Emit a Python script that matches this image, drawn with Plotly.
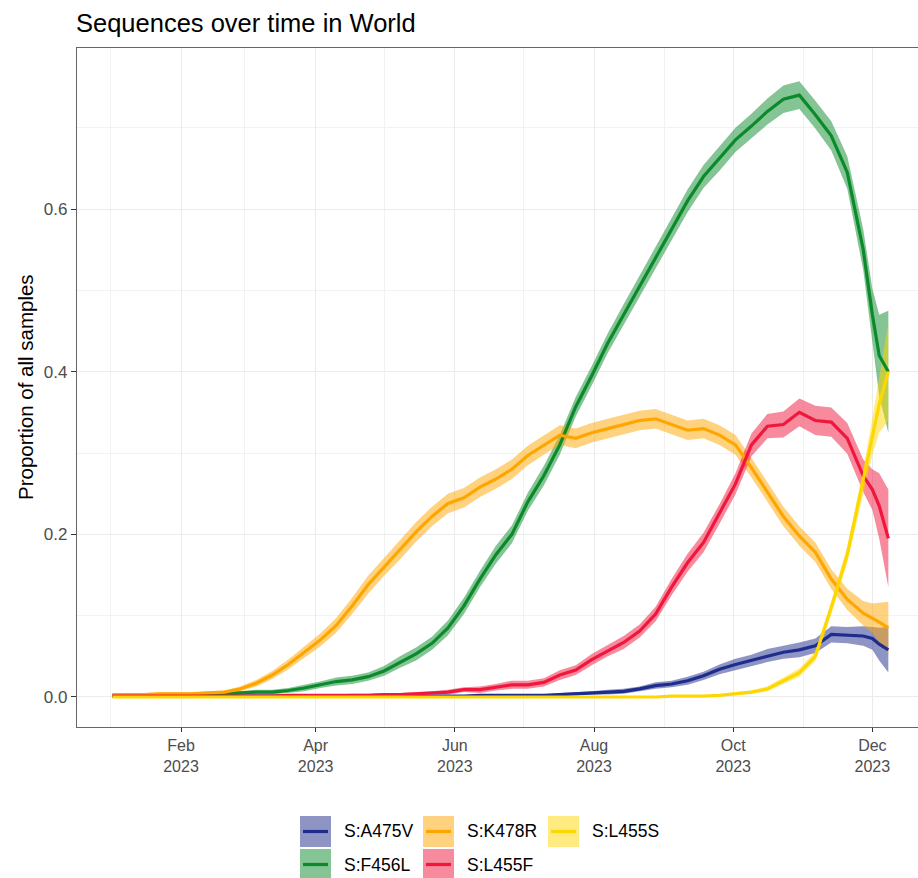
import plotly.graph_objects as go

# ---------------- data ----------------
dates = [
    "2023-01-02", "2023-01-09", "2023-01-16", "2023-01-23", "2023-01-30",
    "2023-02-06", "2023-02-13", "2023-02-20", "2023-02-27", "2023-03-06",
    "2023-03-13", "2023-03-20", "2023-03-27", "2023-04-03", "2023-04-10",
    "2023-04-17", "2023-04-24", "2023-05-01", "2023-05-08", "2023-05-15",
    "2023-05-22", "2023-05-29", "2023-06-05", "2023-06-12", "2023-06-19",
    "2023-06-26", "2023-07-03", "2023-07-10", "2023-07-17", "2023-07-24",
    "2023-07-31", "2023-08-07", "2023-08-14", "2023-08-21", "2023-08-28",
    "2023-09-04", "2023-09-11", "2023-09-18", "2023-09-25", "2023-10-02",
    "2023-10-09", "2023-10-16", "2023-10-23", "2023-10-30", "2023-11-06",
    "2023-11-13", "2023-11-20", "2023-11-27", "2023-12-01", "2023-12-04",
    "2023-12-08",
]

a475v = [0.001, 0.001, 0.001, 0.001, 0.001, 0.001, 0.001, 0.001, 0.001, 0.001,
         0.001, 0.001, 0.001, 0.001, 0.001, 0.001, 0.001, 0.001, 0.001, 0.001,
         0.001, 0.001, 0.001, 0.002, 0.002, 0.002, 0.002, 0.002, 0.003, 0.004,
         0.005, 0.006, 0.007, 0.010, 0.014, 0.016, 0.020, 0.026, 0.034, 0.040,
         0.045, 0.051, 0.055, 0.058, 0.063, 0.077, 0.076, 0.075, 0.072, 0.065,
         0.058]
a475v_hw = [0.001, 0.001, 0.001, 0.001, 0.001, 0.001, 0.001, 0.001, 0.001, 0.001,
            0.001, 0.001, 0.001, 0.001, 0.001, 0.001, 0.001, 0.001, 0.001, 0.001,
            0.001, 0.001, 0.001, 0.001, 0.001, 0.001, 0.001, 0.001, 0.002, 0.002,
            0.002, 0.003, 0.003, 0.003, 0.004, 0.004, 0.005, 0.005, 0.006, 0.007,
            0.007, 0.008, 0.008, 0.009, 0.009, 0.010, 0.010, 0.012, 0.014, 0.020,
            0.028]

f456l = [0.002, 0.002, 0.002, 0.003, 0.003, 0.003, 0.004, 0.004, 0.005, 0.006,
         0.006, 0.008, 0.011, 0.015, 0.019, 0.021, 0.025, 0.032, 0.043, 0.053,
         0.066, 0.085, 0.112, 0.145, 0.175, 0.200, 0.240, 0.272, 0.310, 0.357,
         0.395, 0.435, 0.470, 0.505, 0.540, 0.575, 0.610, 0.640, 0.662, 0.685,
         0.702, 0.720, 0.735, 0.740, 0.716, 0.690, 0.645, 0.550, 0.470, 0.420,
         0.400]
f456l_hw = [0.002, 0.002, 0.002, 0.002, 0.002, 0.002, 0.002, 0.002, 0.002, 0.003,
            0.003, 0.003, 0.004, 0.004, 0.005, 0.005, 0.005, 0.006, 0.007, 0.008,
            0.008, 0.009, 0.010, 0.010, 0.011, 0.011, 0.011, 0.012, 0.012, 0.012,
            0.012, 0.012, 0.013, 0.013, 0.013, 0.013, 0.014, 0.014, 0.015, 0.015,
            0.015, 0.016, 0.017, 0.017, 0.017, 0.018, 0.020, 0.025, 0.032, 0.050,
            0.075]

k478r = [0.003, 0.003, 0.003, 0.004, 0.004, 0.004, 0.005, 0.006, 0.010, 0.017,
         0.027, 0.040, 0.055, 0.070, 0.088, 0.112, 0.138, 0.160, 0.181, 0.203,
         0.222, 0.238, 0.245, 0.258, 0.268, 0.280, 0.297, 0.310, 0.322, 0.318,
         0.325, 0.330, 0.335, 0.340, 0.342, 0.335, 0.328, 0.330, 0.322, 0.310,
         0.282, 0.252, 0.222, 0.198, 0.178, 0.145, 0.120, 0.103, 0.097, 0.092,
         0.085]
k478r_hw = [0.002, 0.002, 0.002, 0.002, 0.002, 0.002, 0.002, 0.002, 0.003, 0.004,
            0.005, 0.006, 0.007, 0.008, 0.009, 0.010, 0.011, 0.011, 0.012, 0.012,
            0.012, 0.012, 0.012, 0.012, 0.012, 0.012, 0.012, 0.012, 0.012, 0.012,
            0.012, 0.012, 0.012, 0.012, 0.012, 0.012, 0.012, 0.012, 0.012, 0.012,
            0.012, 0.012, 0.012, 0.012, 0.012, 0.012, 0.013, 0.015, 0.018, 0.024,
            0.032]

l455f = [0.001, 0.001, 0.001, 0.001, 0.001, 0.001, 0.001, 0.001, 0.001, 0.001,
         0.001, 0.002, 0.002, 0.002, 0.002, 0.002, 0.002, 0.003, 0.003, 0.004,
         0.005, 0.006, 0.009, 0.009, 0.012, 0.015, 0.015, 0.018, 0.027, 0.033,
         0.046, 0.057, 0.067, 0.081, 0.102, 0.135, 0.165, 0.190, 0.225, 0.262,
         0.310, 0.333, 0.335, 0.350, 0.340, 0.338, 0.318, 0.272, 0.255, 0.235,
         0.195]
l455f_hw = [0.001, 0.001, 0.001, 0.001, 0.001, 0.001, 0.001, 0.001, 0.001, 0.001,
            0.001, 0.001, 0.001, 0.001, 0.001, 0.002, 0.002, 0.002, 0.002, 0.002,
            0.002, 0.003, 0.003, 0.004, 0.004, 0.005, 0.005, 0.005, 0.006, 0.006,
            0.007, 0.007, 0.008, 0.008, 0.009, 0.010, 0.011, 0.012, 0.012, 0.013,
            0.014, 0.015, 0.016, 0.017, 0.018, 0.018, 0.019, 0.020, 0.025, 0.040,
            0.060]

l455s = [0.000, 0.000, 0.000, 0.000, 0.000, 0.000, 0.000, 0.000, 0.000, 0.000,
         0.000, 0.000, 0.000, 0.000, 0.000, 0.000, 0.000, 0.000, 0.000, 0.000,
         0.000, 0.000, 0.000, 0.000, 0.000, 0.000, 0.000, 0.000, 0.000, 0.000,
         0.000, 0.000, 0.000, 0.000, 0.000, 0.001, 0.001, 0.001, 0.002, 0.004,
         0.006, 0.010, 0.020, 0.030, 0.050, 0.110, 0.175, 0.265, 0.320, 0.360,
         0.400]
l455s_hw = [0.001, 0.001, 0.001, 0.001, 0.001, 0.001, 0.001, 0.001, 0.001, 0.001,
            0.001, 0.001, 0.001, 0.001, 0.001, 0.001, 0.001, 0.001, 0.001, 0.001,
            0.001, 0.001, 0.001, 0.001, 0.001, 0.001, 0.001, 0.001, 0.001, 0.001,
            0.001, 0.001, 0.001, 0.001, 0.001, 0.001, 0.001, 0.001, 0.001, 0.002,
            0.002, 0.003, 0.004, 0.005, 0.006, 0.008, 0.010, 0.015, 0.022, 0.035,
            0.060]

series_names = ["S:A475V", "S:F456L", "S:K478R", "S:L455F", "S:L455S"]
series_values = [a475v, f456l, k478r, l455f, l455s]
series_hw = [a475v_hw, f456l_hw, k478r_hw, l455f_hw, l455s_hw]
series_colors = ["#1E2C8C", "#0B8A2B", "#FFA500", "#F0163C", "#FFD700"]
ribbon_alpha = 0.5

x_tickvals = ["2023-02-01", "2023-04-01", "2023-06-01", "2023-08-01",
              "2023-10-01", "2023-12-01"]
x_ticktext = ["Feb<br>2023", "Apr<br>2023", "Jun<br>2023", "Aug<br>2023",
              "Oct<br>2023", "Dec<br>2023"]
x_minorvals = ["2023-01-01", "2023-03-01", "2023-05-01", "2023-07-01",
               "2023-09-01", "2023-11-01"]
y_tickvals = [0.0, 0.2, 0.4, 0.6]
y_ticktext = ["0.0", "0.2", "0.4", "0.6"]
y_minorvals = [0.1, 0.3, 0.5, 0.7]

title_text = "Sequences over time in World"
y_title = "Proportion of all samples"


def rgba(hex_color, a):
    h = hex_color.lstrip("#")
    r, g, b = int(h[0:2], 16), int(h[2:4], 16), int(h[4:6], 16)
    return f"rgba({r},{g},{b},{a})"


# ---------------- figure ----------------
W, H = 918, 878
ML, MR, MT, MB = 77, 0, 48, 151
PW, PH = W - ML - MR, H - MT - MB

FONT = "Liberation Sans, Arial, Helvetica, sans-serif"

fig = go.Figure()

# ribbons first (all), then lines (all) -- like ggplot layers
for name, vals, hw, col in zip(series_names, series_values, series_hw, series_colors):
    lo = [max(v - h, 0.0) for v, h in zip(vals, hw)]
    hi = [v + h for v, h in zip(vals, hw)]
    fig.add_trace(go.Scatter(
        x=dates + dates[::-1], y=hi + lo[::-1],
        fill="toself", fillcolor=rgba(col, ribbon_alpha),
        line=dict(width=0), mode="lines", hoverinfo="skip",
        showlegend=False, name=name + " CI"))

for name, vals, col in zip(series_names, series_values, series_colors):
    fig.add_trace(go.Scatter(
        x=dates, y=vals, mode="lines", name=name,
        line=dict(color=col, width=3.2), showlegend=False))


def px2paper_x(px):
    return (px - ML) / PW


def px2paper_y(py):
    return (H - MB - py) / PH


# custom ggplot-like legend (bottom, 2 rows x 3 cols, filled by column)
legend_cols_x = [300, 423, 548]
legend_rows_y = [816, 849]
key_size = 31
shapes = []
annotations = []
for i, (name, col) in enumerate(zip(series_names, series_colors)):
    c, r = i // 2, i % 2
    x0 = legend_cols_x[c]
    y0 = legend_rows_y[r]
    shapes.append(dict(type="rect", xref="paper", yref="paper",
                       x0=px2paper_x(x0), x1=px2paper_x(x0 + key_size),
                       y0=px2paper_y(y0), y1=px2paper_y(y0 + key_size),
                       fillcolor=rgba(col, ribbon_alpha), line=dict(width=0),
                       layer="above"))
    ym = y0 + key_size / 2
    shapes.append(dict(type="line", xref="paper", yref="paper",
                       x0=px2paper_x(x0 + 3), x1=px2paper_x(x0 + key_size - 3),
                       y0=px2paper_y(ym), y1=px2paper_y(ym),
                       line=dict(color=col, width=3.2), layer="above"))
    annotations.append(dict(text=name, xref="paper", yref="paper",
                            x=px2paper_x(x0 + key_size + 11), y=px2paper_y(ym),
                            xanchor="left", yanchor="middle", showarrow=False,
                            font=dict(family=FONT, size=17.5, color="black")))

# y axis title
annotations.append(dict(text=y_title, xref="paper", yref="paper",
                        x=px2paper_x(25), y=px2paper_y(387), textangle=-90,
                        xanchor="center", yanchor="middle", showarrow=False,
                        font=dict(family=FONT, size=20.5, color="black")))

fig.update_layout(
    width=W, height=H,
    margin=dict(l=ML, r=MR, t=MT, b=MB, pad=0),
    paper_bgcolor="white", plot_bgcolor="white",
    font=dict(family=FONT, color="#4D4D4D"),
    title=dict(text=title_text, x=(ML - 1) / W, xanchor="left", xref="container",
               y=1 - 23 / H, yanchor="middle", yref="container",
               font=dict(family=FONT, size=25.5, color="black")),
    shapes=shapes, annotations=annotations,
    showlegend=False,
)

fig.update_xaxes(
    type="date", automargin=False,
    range=["2022-12-17 10:00", "2023-12-21"],
    tickmode="array", tickvals=x_tickvals, ticktext=x_ticktext,
    tickfont=dict(family=FONT, size=16, color="#4D4D4D"),
    ticks="outside", ticklen=4, tickwidth=1.1, tickcolor="#333333",
    showgrid=True, gridcolor="#EBEBEB", gridwidth=1.1,
    minor=dict(tickmode="array", tickvals=x_minorvals, showgrid=True,
               gridcolor="#F2F2F2", gridwidth=1.1, ticks=""),
    showline=True, linecolor="#666666", linewidth=1.3, mirror=True,
    zeroline=False,
)
fig.update_yaxes(
    automargin=False,
    range=[-0.0369, 0.798],
    tickmode="array", tickvals=y_tickvals, ticktext=y_ticktext,
    tickfont=dict(family=FONT, size=17, color="#4D4D4D"),
    ticks="outside", ticklen=5, tickwidth=1.1, tickcolor="#333333",
    showgrid=True, gridcolor="#EBEBEB", gridwidth=1.1,
    minor=dict(tickmode="array", tickvals=y_minorvals, showgrid=True,
               gridcolor="#F2F2F2", gridwidth=1.1, ticks=""),
    showline=True, linecolor="#666666", linewidth=1.3, mirror=False,
    zeroline=False,
)

fig.write_html("out.html",
               config={"displayModeBar": False},
               post_script="document.body.style.margin='0';"
                           "document.body.style.padding='0';")
